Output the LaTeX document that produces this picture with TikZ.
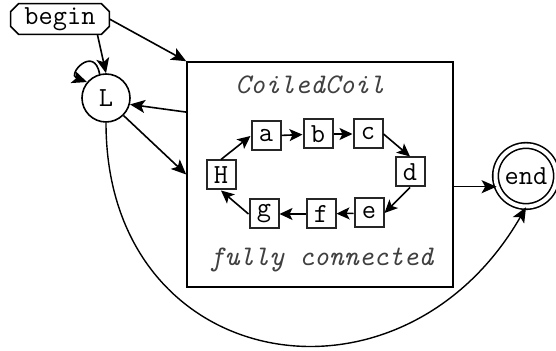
\documentclass[tikz,border=0pt]{standalone}
\usepackage{tikz}
\usetikzlibrary{arrows.meta, positioning}

\begin{document}
\begin{tikzpicture}[
    x=0.5pt, y=0.5pt,
    font=\ttfamily\fontsize{13.8}{15}\selectfont,
    st/.style={draw, circle, line width=0.8pt, minimum size=24pt, inner sep=0pt},
    lt/.style={draw=black!85, line width=1pt, minimum size=14.5pt, inner sep=0pt},
    lbl/.style={font=\ttfamily\itshape\fontsize{14.2}{15}\selectfont, text=black!75},
    arr/.style={-{Stealth[length=7.5pt, width=6.5pt, inset=1.8pt]}, line width=0.8pt},
    sarr/.style={-{Stealth[length=6.5pt, width=6pt, inset=1.5pt]}, line width=0.8pt}
  ]
  \useasboundingbox (0,0) rectangle (556,351);
  % outer states
  \node[minimum width=49pt, minimum height=15pt, inner sep=0pt] (begin) at (60,332) {begin};
  \draw[line width=0.8pt] ([xshift=4pt]begin.north west) -- ([xshift=-4pt]begin.north east)
    -- ([yshift=-4pt]begin.north east) -- ([yshift=4pt]begin.south east)
    -- ([xshift=-4pt]begin.south east) -- ([xshift=4pt]begin.south west)
    -- ([yshift=4pt]begin.south west) -- ([yshift=-4pt]begin.north west) -- cycle;
  \node[st] (L) at (106,253) {L};
  \node[st, double, double distance=2pt, minimum size=30.5pt] (end) at (526,175) {end};
  % cluster
  \node[draw, line width=0.8pt, minimum width=133pt, minimum height=112.5pt,
    inner sep=0pt] (coil) at (320,176.5) {};
  \node[lbl] (title) at (310,266) {CoiledCoil};
  \node[lbl] (note) at (321.5,91) {fully connected};
  % ring
  \node[lt] (a) at (266,215) {a};
  \node[lt] (b) at (318,217) {b};
  \node[lt] (c) at (368,217) {c};
  \node[lt] (d) at (410,179) {d};
  \node[lt] (e) at (369,138) {e};
  \node[lt] (f) at (321,137) {f};
  \node[lt] (g) at (264,137) {g};
  \node[lt] (H) at (221,176) {H};
  \draw[sarr] (H.north) -- (a.west);
  \draw[sarr] (a) -- (b);
  \draw[sarr] (b) -- (c);
  \draw[sarr] (c.east) -- (d.north);
  \draw[sarr] (d.south) -- (e.east);
  \draw[sarr] (e) -- (f);
  \draw[sarr] (f) -- (g);
  \draw[sarr] (g.west) -- (H.south);
  % edges
  \draw[arr] (begin.east) -- (coil.north west);
  \draw[arr] ([xshift=-6pt]begin.south east) -- (L.north);
  \draw[arr] (L.105) .. controls +(100:15pt) and +(160:11pt) .. (L.140);
  \draw[arr] (coil.155) -- (L.-15);
  \draw[arr] (L.-45) -- (coil.west);
  \draw[arr] (end.200 -| coil.east) -- (end.200);
  \draw[arr, line width=0.7pt] (L.south) to[out=-90, in=-120, looseness=1.5] (end.south);
\end{tikzpicture}
\end{document}
